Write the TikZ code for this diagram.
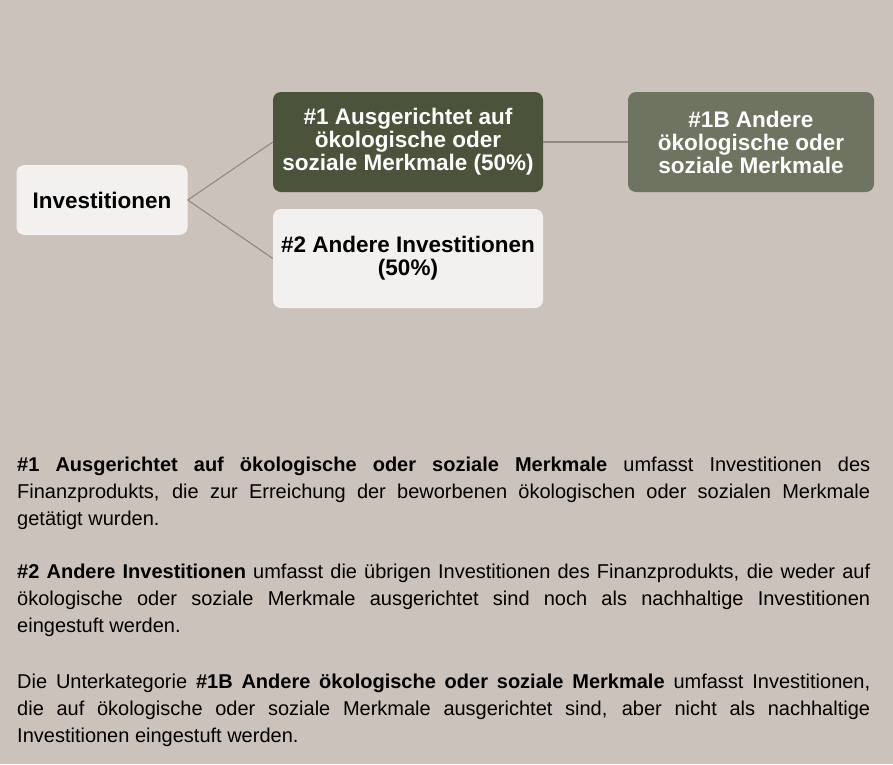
\documentclass[tikz,border=0pt]{standalone}
\usepackage{fontspec}
\setmainfont{Liberation Sans}
\usepackage{tikz}
\usetikzlibrary{positioning}
\usepackage{xcolor}
\definecolor{bgtaupe}{RGB}{203,194,188}
\definecolor{boxlight}{RGB}{243,241,239}
\definecolor{olivedark}{RGB}{75,84,58}
\definecolor{olivemid}{RGB}{111,116,96}
\definecolor{linkgrey}{RGB}{150,136,126}
\hyphenpenalty=10000

\begin{document}
\begin{tikzpicture}[x=1pt, y=-1pt,
  box/.style={rounded corners=8pt, inner sep=4pt, align=center, font=\fontsize{22.5}{23}\selectfont\bfseries},
  lightbox/.style={box, fill=boxlight, text=black},
  darkbox/.style={box, fill=olivedark, text=white},
  midbox/.style={box, fill=olivemid, text=white},
  link/.style={draw=linkgrey, line width=1.1pt},
  para/.style={anchor=base west, inner sep=0pt, text width=853pt, align=justify, font=\fontsize{20}{27}\selectfont}]
% canvas
\fill[bgtaupe] (0,0) rectangle (893,764);
% boxes
\node[lightbox, minimum width=171pt, minimum height=70pt] (inv) at (102,200) {Investitionen};
\node[darkbox, minimum width=270pt, minimum height=100pt] (aus) at (408,142) {\#1 Ausgerichtet auf\\ökologische oder\\soziale Merkmale (50\%)};
\node[lightbox, minimum width=270pt, minimum height=99pt] (andere) at (408,258.5) {\#2 Andere Investitionen\\(50\%)};
\node[midbox, minimum width=246pt, minimum height=100pt] (sub) at (751,142) {\#1B Andere\\ökologische oder\\soziale Merkmale};
% links
\draw[link] (inv.east) -- (aus.west);
\draw[link] (inv.east) -- (andere.west);
\draw[link] (aus.east) -- (sub.west);
% notes
\node[para] (note1) at (17,471) {\textbf{\#1 Ausgerichtet auf ökologische oder soziale Merkmale} umfasst Investitionen des\linebreak Finanzprodukts, die zur Erreichung der beworbenen ökologischen oder sozialen Merkmale\linebreak getätigt wurden.};
\node[para] (note2) at (17,578) {\textbf{\#2 Andere Investitionen} umfasst die übrigen Investitionen des Finanzprodukts, die weder auf\linebreak ökologische oder soziale Merkmale ausgerichtet sind noch als nachhaltige Investitionen\linebreak eingestuft werden.};
\node[para] (note3) at (17,688) {Die Unterkategorie \textbf{\#1B Andere ökologische oder soziale Merkmale} umfasst Investitionen,\linebreak die auf ökologische oder soziale Merkmale ausgerichtet sind, aber nicht als nachhaltige\linebreak Investitionen eingestuft werden.};
\end{tikzpicture}
\end{document}
